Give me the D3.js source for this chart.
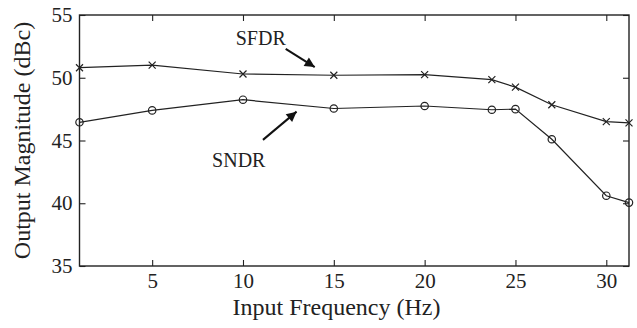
<!DOCTYPE html>
<html>
<head>
<meta charset="utf-8">
<script src="https://cdn.jsdelivr.net/npm/d3@7"></script>
<style>
  body { margin: 0; background: #fff; }
  text { font-family: "Liberation Serif", "Times New Roman", serif; fill: #222; }
</style>
</head>
<body>
<svg id="chart" width="637" height="328"></svg>
<script>
// data
var freq = [1, 5, 10, 15, 20, 23.7, 25, 27, 30, 31.25]
var sfdr = [50.8, 51.0, 50.3, 50.2, 50.25, 49.85, 49.25, 47.85, 46.5, 46.4]
var sndr = [46.45, 47.4, 48.25, 47.55, 47.75, 47.45, 47.5, 45.1, 40.6, 40.05]
var xTicks = [5, 10, 15, 20, 25, 30]
var yTicks = [35, 40, 45, 50, 55]

// annotation text and arrows, in data units
var notes = [
  { text: "SFDR", tx: 9.6, ty: 52.6, from: [12.35, 52.3], to: [13.95, 50.85] },
  { text: "SNDR", tx: 8.3, ty: 42.9, from: [11.1, 45.05], to: [12.95, 47.3] }
]

;(function(){
  var svg = d3.select('#chart'),
      width = +svg.attr("width"),
      height = +svg.attr("height")
  var m = { top: 15, right: 8, bottom: 62, left: 79.5 }
  var w = width - m.left - m.right,
      h = height - m.top - m.bottom

  var g = svg.append('g').attr("transform", `translate(${m.left},${m.top})`)

  var x = d3.scaleLinear().domain([1, 31.25]).range([0, w])
  var y = d3.scaleLinear().domain([35, 55]).range([h, 0])

  // axes, ticks pointing inward on all sides
  var ax = [
    [d3.axisBottom(x).tickValues(xTicks).tickSize(-6).tickPadding(7), `translate(0,${h})`],
    [d3.axisTop(x).tickValues(xTicks).tickSize(-6).tickFormat(""), null],
    [d3.axisLeft(y).tickValues(yTicks).tickSize(-6).tickPadding(7), null],
    [d3.axisRight(y).tickValues(yTicks).tickSize(-6).tickFormat(""), `translate(${w},0)`]
  ]
  ax.forEach(function(a) {
    var sel = g.append('g').call(a[0])
    if (a[1]) sel.attr("transform", a[1])
    sel.select('.domain').remove()
    sel.selectAll('line').attr("stroke", "#222").attr("stroke-width", 1.1)
    sel.selectAll('text').style("font-size", "21px").attr("fill", "#222")
      .style("font-family", '"Liberation Serif", serif')
  })

  g.append('rect')
    .attr("width", w).attr("height", h)
    .attr("fill", "none").attr("stroke", "#222").attr("stroke-width", 1.4)

  var line = d3.line().x((d, i) => x(freq[i])).y(d => y(d))

  g.append('path').datum(sfdr).attr("d", line)
    .attr("fill", "none").attr("stroke", "#222").attr("stroke-width", 1.2)
  g.append('path').datum(sndr).attr("d", line)
    .attr("fill", "none").attr("stroke", "#222").attr("stroke-width", 1.2)

  // x markers for SFDR
  g.selectAll('.xm').data(sfdr).enter().append('path')
    .attr("class", "xm")
    .attr("transform", (d, i) => `translate(${x(freq[i])},${y(d)})`)
    .attr("d", "M-3.5,-3.5L3.5,3.5M-3.5,3.5L3.5,-3.5")
    .attr("stroke", "#222").attr("stroke-width", 1.2)

  // circle markers for SNDR
  g.selectAll('.om').data(sndr).enter().append('circle')
    .attr("class", "om")
    .attr("cx", (d, i) => x(freq[i])).attr("cy", d => y(d))
    .attr("r", 3.7)
    .attr("fill", "none").attr("stroke", "#222").attr("stroke-width", 1.2)

  // arrows
  svg.append('defs').append('marker')
    .attr("id", "head").attr("viewBox", "0 0 10 10")
    .attr("refX", 10).attr("refY", 5)
    .attr("markerWidth", 12).attr("markerHeight", 10)
    .attr("markerUnits", "userSpaceOnUse")
    .attr("orient", "auto")
    .append('path').attr("d", "M0,0L10,5L0,10Z").attr("fill", "#111")

  notes.forEach(function(n) {
    g.append('text').attr("x", x(n.tx)).attr("y", y(n.ty))
      .style("font-size", "20px").text(n.text)
    g.append('line')
      .attr("x1", x(n.from[0])).attr("y1", y(n.from[1]))
      .attr("x2", x(n.to[0])).attr("y2", y(n.to[1]))
      .attr("stroke", "#111").attr("stroke-width", 2)
      .attr("marker-end", "url(#head)")
  })

  // axis titles
  svg.append('text')
    .attr("x", 336.5).attr("y", 315)
    .attr("text-anchor", "middle")
    .style("font-size", "24px")
    .text("Input Frequency (Hz)")
  svg.append('text')
    .attr("transform", `translate(30,${m.top + h / 2}) rotate(-90)`)
    .attr("text-anchor", "middle")
    .style("font-size", "24px")
    .text("Output Magnitude (dBc)")
})()
</script>
</body>
</html>
